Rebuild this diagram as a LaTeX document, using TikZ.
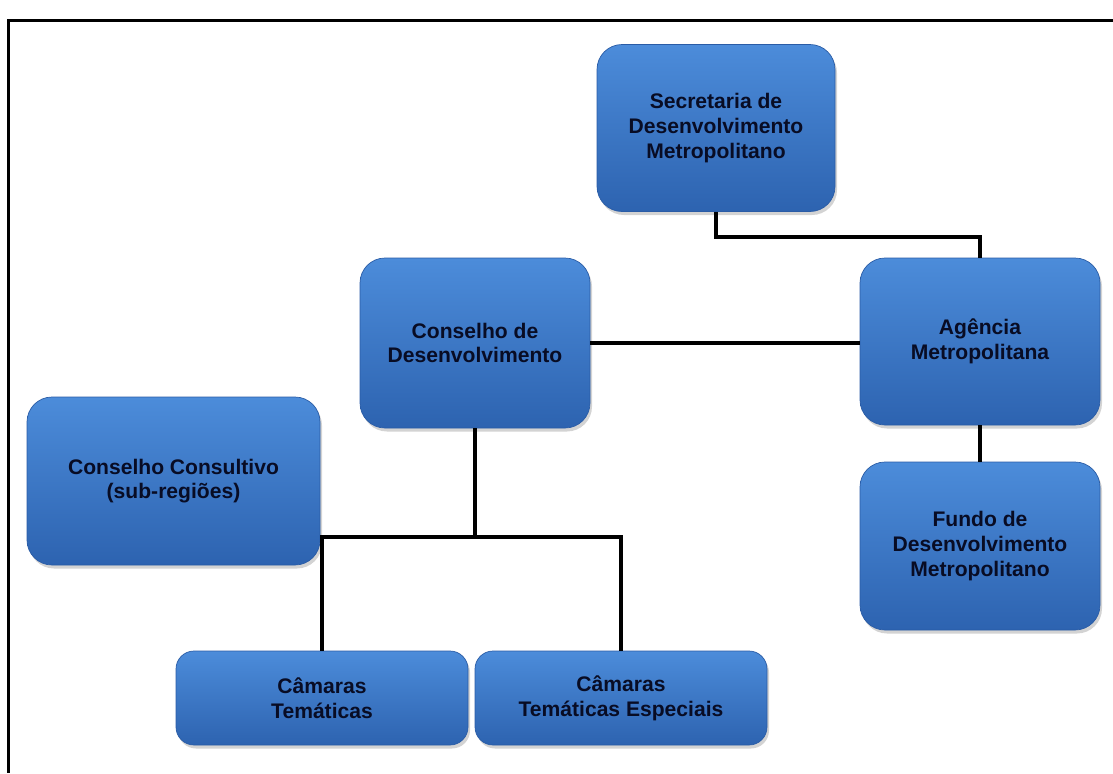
\documentclass[tikz,border=0pt]{standalone}
\usepackage{fontspec}
\setmainfont{Liberation Sans}
\usepackage{xcolor}
\usetikzlibrary{positioning, shadows, calc}
\definecolor{BoxTop}{HTML}{4C8CDA}
\definecolor{BoxBot}{HTML}{2D63B0}
\definecolor{BoxEdge}{HTML}{2A5CA6}
\definecolor{BoxInk}{HTML}{080C24}
\tikzset{
  orgbox/.style={draw=BoxEdge, thin, top color=BoxTop, bottom color=BoxBot,
    rounded corners=0.5cm, minimum width=4.8cm, minimum height=3.34cm,
    inner sep=2pt, align=center, text=BoxInk,
    font=\fontsize{12}{14}\selectfont\bfseries,
    drop shadow={opacity=0.35, shadow xshift=0.04cm, shadow yshift=-0.07cm}},
  flatbox/.style={orgbox, rounded corners=0.36cm, minimum width=5.84cm, minimum height=1.88cm},
  linkline/.style={draw=black, line width=0.08cm},
  frameline/.style={draw=black, line width=0.06cm},
}

\begin{document}
\begin{tikzpicture}
  \useasboundingbox (0,0) rectangle (22.26,-15.46);
  % page frame
  \draw[frameline] (22.26,-0.4) -- (0.16,-0.4) -- (0.16,-15.46);
  % boxes
  \node[orgbox, minimum width=4.76cm] (sec) at (14.32,-2.56) {Secretaria de\\Desenvolvimento\\Metropolitano};
  \node[orgbox] (agen) at (19.6,-6.83) {Agência\\Metropolitana};
  \node[orgbox, minimum width=4.6cm, minimum height=3.4cm] (cdev) at (9.5,-6.86) {Conselho de\\Desenvolvimento};
  \node[orgbox, minimum height=3.36cm] (fundo) at (19.6,-10.92) {Fundo de\\Desenvolvimento\\Metropolitano};
  \node[orgbox, minimum width=5.86cm, minimum height=3.36cm] (cons) at (3.47,-9.62) {Conselho Consultivo\\(sub-regiões)};
  \node[flatbox] (cam) at (6.44,-13.96) {Câmaras\\Temáticas};
  \node[flatbox] (esp) at (12.42,-13.96) {Câmaras\\Temáticas Especiais};
  % connectors
  \coordinate (bus) at ($(cdev.south)+(0,-2.18)$);
  \draw[linkline] (sec.south) -- ++(0,-0.5) -| (agen.north);
  \draw[linkline] (cdev.east) -- (cdev.east -| agen.west);
  \draw[linkline] (agen.south) -- (fundo.north);
  \draw[linkline] (cdev.south) -- (bus);
  \draw[linkline] (cons.east |- bus) -- (esp.north |- bus) -- (esp.north);
  \draw[linkline] (cam.north |- bus) -- (cam.north);
\end{tikzpicture}
\end{document}
